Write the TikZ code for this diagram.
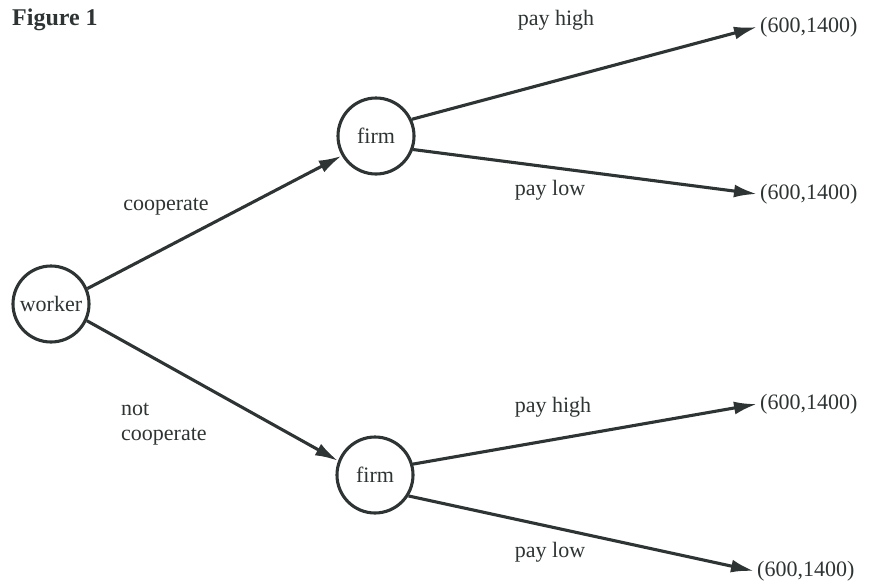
\documentclass[tikz,border=0pt]{standalone}
\usepackage{fontspec}
\setmainfont{Liberation Serif}
\usetikzlibrary{arrows.meta}
\definecolor{ink}{HTML}{2E3333}
\begin{document}
\begin{tikzpicture}[x=1pt,y=-1pt,
  every node/.style={font=\fontsize{22}{25}\selectfont, text=ink},
  player/.style={circle, draw=ink, line width=3.1pt, minimum size=76pt, inner sep=0pt},
  payoff/.style={anchor=west, inner sep=3pt},
  lbl/.style={anchor=center, inner sep=0pt},
  move/.style={draw=ink, line width=3.1pt, -{Latex[length=23pt,width=13pt]}}]
\useasboundingbox (0,0) rectangle (871,582);
\node[anchor=west, inner sep=0pt, font=\fontsize{24}{26}\selectfont\bfseries] (fig) at (12,20) {Figure 1};
\node[player] (w) at (51,304) {worker};
\node[player] (f1) at (376,136) {firm};
\node[player] (f2) at (375,475) {firm};
\node[payoff] (p1) at (757,27) {(600,1400)};
\node[payoff] (p2) at (757,194) {(600,1400)};
\node[payoff] (p3) at (757,404) {(600,1400)};
\node[payoff] (p4) at (754,571) {(600,1400)};
\draw[move] (w.23) -- (f1.210);
\draw[move] (w.-25) -- (f2.159);
\draw[move] (f1.25) -- (p1.west);
\draw[move] (f1.-20) -- (p2.west);
\draw[move] (f2.16) -- (p3.west);
\draw[move] (f2.-32) -- (p4.west);
\node[lbl] (l1) at (556,20) {pay high};
\node[lbl] (l2) at (550,190) {pay low};
\node[lbl] (l3) at (166,207) {cooperate};
\node[anchor=west, inner sep=0pt, align=left] (l4) at (121,424) {not\\cooperate};
\node[lbl] (l5) at (553,407) {pay high};
\node[lbl] (l6) at (550,552) {pay low};
\end{tikzpicture}
\end{document}
